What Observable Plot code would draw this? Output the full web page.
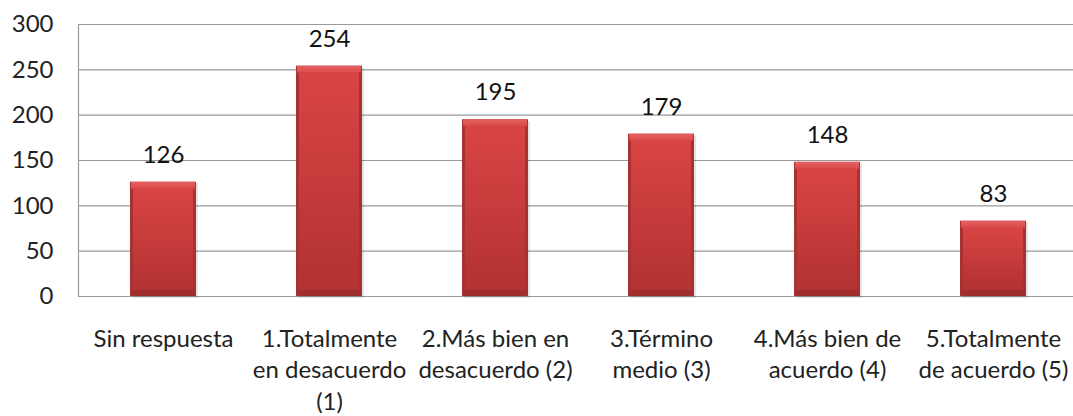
<!DOCTYPE html>
<html>
<head>
<meta charset="utf-8">
<script src="https://cdn.jsdelivr.net/npm/d3@7"></script>
<script src="https://cdn.jsdelivr.net/npm/@observablehq/plot@0.6"></script>
<style>
  html, body { margin: 0; padding: 0; background: #fff; }
  #chart svg { display: block; }
</style>
</head>
<body>
<div id="chart"></div>
<script>
const categories = [
  "Sin respuesta",
  "1.Totalmente\nen desacuerdo\n(1)",
  "2.Más bien en\ndesacuerdo (2)",
  "3.Término\nmedio (3)",
  "4.Más bien de\nacuerdo (4)",
  "5.Totalmente\nde acuerdo (5)"
];
const values = [126, 254, 195, 179, 148, 83];
const yTicks = [0, 50, 100, 150, 200, 250, 300];

const data = categories.map((c, i) => ({category: c, value: values[i]}));
const FS = 24;

const chart = Plot.plot({
  width: 1073,
  height: 416,
  marginLeft: 78,
  marginRight: -5,
  marginTop: 24,
  marginBottom: 120,
  style: {fontFamily: "Lato, 'Noto Sans', sans-serif", fontSize: FS + "px", color: "#222", background: "#fff", overflow: "visible"},
  x: {domain: categories, paddingInner: 0.6, paddingOuter: 0.3, align: 0.5, label: null},
  y: {domain: [0, 300], label: null},
  marks: [
    Plot.gridY(yTicks, {stroke: "#9a9a9a", strokeOpacity: 1, strokeWidth: 1.2}),
    Plot.frame({anchor: "left", stroke: "#9a9a9a", strokeWidth: 1.2}),
    // soft shadow
    Plot.barY(data, {x: "category", y: "value", fill: "#000", fillOpacity: 0.10, dx: 2, dy: 2}),
    // bar body (sides)
    Plot.barY(data, {x: "category", y: "value", fill: "#a83131"}),
    // top bevel
    Plot.barY(data, {x: "category", y1: "value", y2: "value", insetBottom: -7, insetLeft: 1, insetRight: 1, fill: "url(#topGrad)"}),
    // bottom bevel
    Plot.barY(data, {x: "category", y1: 0, y2: 0, insetTop: -6, insetLeft: 1, insetRight: 1, fill: "#a02e2e"}),
    // face
    Plot.barY(data, {x: "category", y: "value", fill: "url(#faceGrad)", insetTop: 7, insetBottom: 6, insetLeft: 3, insetRight: 3}),
    Plot.text(data, {x: "category", y: "value", text: d => String(d.value), dy: -27, fill: "#111", fontSize: FS}),
    Plot.axisY(yTicks, {tickSize: 0, tickPadding: 25, fill: "#222", fontSize: FS, label: null}),
    Plot.axisX({tickSize: 0, tickPadding: 28, lineHeight: 1.31, fill: "#222", fontSize: FS, label: null, textOverflow: null})
  ]
});

const ns = "http://www.w3.org/2000/svg";
const defs = document.createElementNS(ns, "defs");
defs.innerHTML = `
  <linearGradient id="faceGrad" x1="0" y1="0" x2="0" y2="1">
    <stop offset="0" stop-color="#d94444"/>
    <stop offset="1" stop-color="#b33232"/>
  </linearGradient>
  <linearGradient id="topGrad" x1="0" y1="0" x2="0" y2="1">
    <stop offset="0" stop-color="#e66262"/>
    <stop offset="1" stop-color="#db4a4a"/>
  </linearGradient>`;
chart.insertBefore(defs, chart.firstChild);
document.getElementById("chart").appendChild(chart);
</script>
</body>
</html>
